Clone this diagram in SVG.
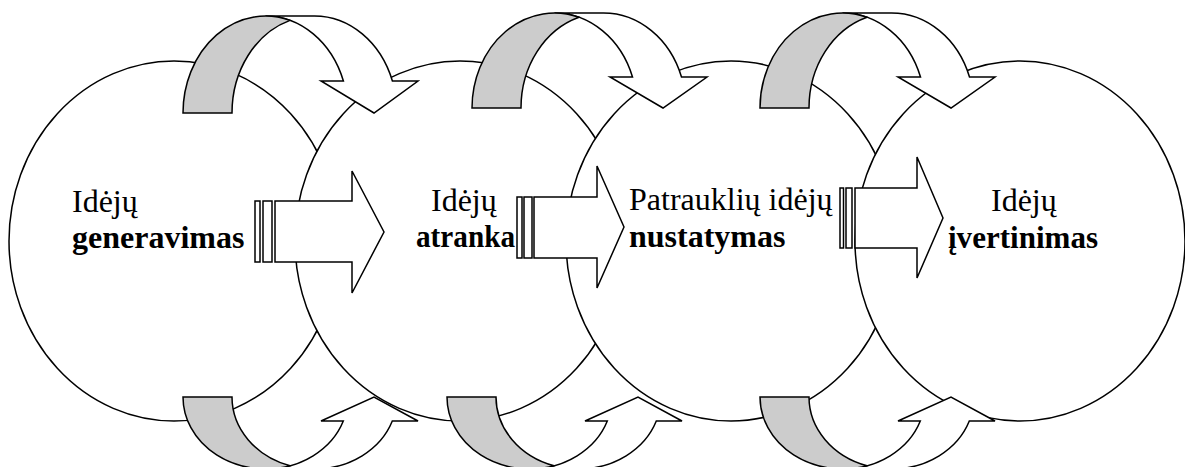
<svg xmlns="http://www.w3.org/2000/svg" xmlns:xlink="http://www.w3.org/1999/xlink" width="1185" height="467" viewBox="0 0 1185 467">
<style>
.c{fill:#fff;stroke:#000;stroke-width:1.5}
.g{fill:#cccccc;stroke:#000;stroke-width:1.5;stroke-linejoin:miter}
.w{fill:#fff;stroke:#000;stroke-width:1.5;stroke-linejoin:miter}
.t{font-family:"Liberation Serif","Times New Roman",serif;font-size:32px;fill:#000}
.b{font-weight:bold}
</style>
<defs>
<path id="tw" d="M131.5,-97 A82.5,97 0 0 1 209.4,-32 L235,-32 L191,0 L138,-32 L160.4,-32 A82.5,97 0 0 0 82.5,-97 Z"/>
<path id="tg" d="M107,-92.6 A82.5,97 0 0 0 49,0 L0,0 A82.5,97 0 0 1 107,-92.6 Z"/>
<path id="tw2" d="M131.5,-95 A82.5,95 0 0 1 209.5,-31 L235,-31 L191,0 L138,-31 L160.5,-31 A82.5,95 0 0 0 82.5,-95 Z"/>
<path id="tg2" d="M107,-90.7 A82.5,95 0 0 0 49,0 L0,0 A82.5,95 0 0 1 107,-90.7 Z"/>
<path id="bw" d="M131.5,72 A82.5,72 0 0 0 209.3,24 L235,24 L191,0 L138,24 L160.3,24 A82.5,72 0 0 1 82.5,72 Z"/>
<path id="bg" d="M107,68.7 A82.5,72 0 0 1 49,0 L0,0 A82.5,72 0 0 0 107,68.7 Z"/>
</defs>
<g id="node1">
<ellipse class="c" cx="174" cy="241" rx="165" ry="180"/>
</g>
<g id="node2">
<ellipse class="c" cx="460" cy="241" rx="165" ry="180"/>
</g>
<g id="node3">
<ellipse class="c" cx="731" cy="241" rx="165" ry="180"/>
</g>
<g id="node4">
<ellipse class="c" cx="1020" cy="241" rx="165" ry="180"/>
</g>
<g id="labels">
<text class="t" x="72" y="212">Idėjų</text>
<text class="t b" x="72" y="248">generavimas</text>
<text class="t" x="431" y="211">Idėjų</text>
<text class="t b" x="416" y="247" textLength="99" lengthAdjust="spacingAndGlyphs">atranka</text>
<text class="t" x="629" y="210">Patrauklių idėjų</text>
<text class="t b" x="629" y="247">nustatymas</text>
<text class="t" x="991" y="211">Idėjų</text>
<text class="t b" x="948" y="248" textLength="150" lengthAdjust="spacingAndGlyphs">įvertinimas</text>
</g>
<g id="connectors">
<g transform="translate(183,113)"><use xlink:href="#tw" class="w"/><use xlink:href="#tg" class="g"/></g>
<g transform="translate(472,108)"><use xlink:href="#tw2" class="w"/><use xlink:href="#tg2" class="g"/></g>
<g transform="translate(760,108)"><use xlink:href="#tw2" class="w"/><use xlink:href="#tg2" class="g"/></g>
<g transform="translate(183,397)"><use xlink:href="#bw" class="w"/><use xlink:href="#bg" class="g"/></g>
<g transform="translate(447,397)"><use xlink:href="#bw" class="w"/><use xlink:href="#bg" class="g"/></g>
<g transform="translate(760,397)"><use xlink:href="#bw" class="w"/><use xlink:href="#bg" class="g"/></g>
<g id="arrow1">
<rect class="w" x="255" y="201" width="5" height="61"/>
<rect class="w" x="263" y="201" width="9" height="61"/>
<path class="w" d="M275,201 L352,201 L352,171 L384,232 L352,293 L352,262 L275,262 Z"/>
</g>
<g id="arrow2">
<rect class="w" x="517" y="197" width="5" height="61"/>
<rect class="w" x="524" y="197" width="8" height="61"/>
<path class="w" d="M534,197 L597,197 L597,166 L624,227 L597,288 L597,258 L534,258 Z"/>
</g>
<g id="arrow3">
<rect class="w" x="840" y="188" width="3.5" height="60"/>
<rect class="w" x="846" y="188" width="6" height="60"/>
<path class="w" d="M855,188 L917,188 L917,157 L943,218 L917,278 L917,248 L855,248 Z"/>
</g>
</g>
</svg>
